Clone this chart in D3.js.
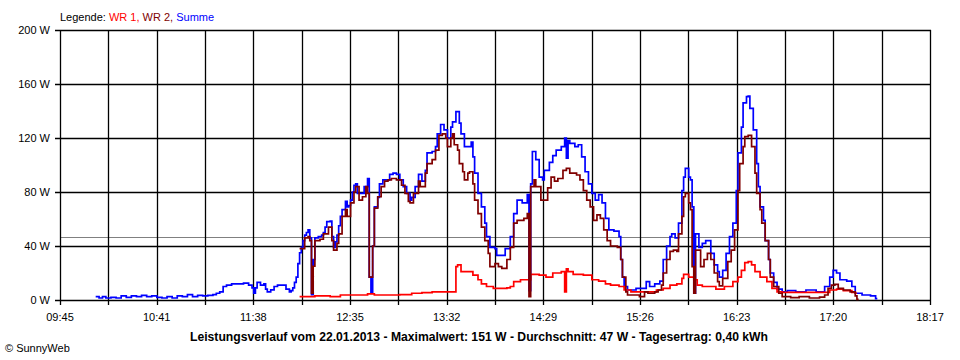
<!DOCTYPE html>
<html><head><meta charset="utf-8">
<script src="https://cdn.jsdelivr.net/npm/d3@7"></script>
<style>
body{margin:0;background:#fff;}
svg{display:block;}
text{font-family:"Liberation Sans",Arial,sans-serif;}
</style></head>
<body><svg id="chart" width="960" height="360"></svg>
<script>
// ---- data ----
const yTicks = [0, 40, 80, 120, 160, 200];
const xTickLabels = ["09:45","10:41","11:38","12:35","13:32","14:29","15:26","16:23","17:20","18:17"];
const dayStart = "09:45", dayEnd = "18:17";
const averageW = 47;
const legendItems = ["WR 1", "WR 2", "Summe"];
const titleText = "Leistungsverlauf vom 22.01.2013 - Maximalwert: 151 W - Durchschnitt: 47 W - Tagesertrag: 0,40 kWh";

const summe = [
["10:06",2.5],["10:08",1.5],["10:10",2.5],["10:12",1.5],["10:15",2],["10:18",1.5],["10:21",3],["10:24",2],["10:27",3],["10:30",2.5],
["10:33",3.5],["10:36",2.5],["10:39",3],["10:42",2],["10:45",1.5],["10:48",2.5],["10:51",1.5],["10:54",3],["10:57",2.5],["11:00",4],
["11:03",2.5],["11:06",3.5],["11:09",3],["11:12",3.5],["11:15",4],["11:17",5],["11:19",6],["11:21",10],["11:23",11],["11:26",12],
["11:30",12],["11:33",12.5],["11:36",11],["11:38",9],["11:39",5],["11:40",9],["11:41",13],["11:43",11],["11:45",12],["11:46",8],
["11:47",6],["11:49",7.5],["11:51",10],["11:53",11],["11:56",11],["11:58",8],["12:00",6],["12:01",7],["12:02",9],["12:03",13],
["12:04",17],["12:05",27],["12:06",35],["12:07",39],["12:08",44],["12:09",48],["12:10",50],["12:11",52],["12:12",46],["12:13",4],
["12:14",30],["12:15",46],["12:17",47],["12:19",48],["12:20",50],["12:21",54],["12:22",58],["12:24",58.5],["12:25",47],["12:26",39],
["12:27",43],["12:28",48],["12:29",55],["12:30",62],["12:31",67],["12:33",73],["12:34",69],["12:35",70],["12:36",74],["12:37",80],
["12:38",85],["12:39",86],["12:40",79],["12:42",79],["12:44",84],["12:46",90],["12:47",17],["12:48",5],["12:49",40],["12:50",69],
["12:52",76],["12:53",86],["12:55",89],["12:57",89],["12:59",93],["13:01",94],["13:03",93],["13:05",89],["13:07",84],["13:09",79],
["13:11",74],["13:12",76],["13:14",84],["13:16",93],["13:18",88],["13:20",96],["13:21",109],["13:24",110],["13:26",113.6],["13:27",123],
["13:29",130],["13:31",126],["13:33",120],["13:35",128],["13:36",132],["13:38",139.5],["13:40",131],["13:41",123],["13:43",113.6],["13:45",113.6],
["13:47",117],["13:48",106],["13:49",94],["13:51",79],["13:53",69],["13:55",57],["13:56",47],["13:58",39],["14:01",38],["14:02",33],
["14:07",38],["14:10",47],["14:12",64],["14:14",74],["14:17",72],["14:20",78],["14:21",7],["14:22",86],["14:23",110],["14:25",104],
["14:27",91],["14:29",89],["14:30",96],["14:33",102],["14:35",107],["14:37",111],["14:40",113.6],["14:42",120],["14:43",105],["14:44",118],
["14:45",116],["14:48",113.6],["14:50",115],["14:52",106],["14:54",95],["14:56",86],["14:58",79],["15:00",74],["15:02",78],["15:04",72],
["15:06",60.5],["15:08",52],["15:11",51],["15:14",47],["15:15",30],["15:16",17],["15:17",10],["15:19",7.4],["15:24",8.6],["15:28",8.6],
["15:30",13.6],["15:32",10],["15:35",12],["15:38",14],["15:40",30],["15:42",40],["15:44",47],["15:45",49],["15:47",46],["15:49",57],
["15:51",81],["15:52",91],["15:53",97.5],["15:55",91],["15:56",89],["15:57",69],["15:58",5],["15:59",49],["16:01",39],["16:03",42],
["16:05",44],["16:07",44],["16:08",34.5],["16:10",26],["16:12",21],["16:13",17],["16:15",22],["16:17",34.5],["16:19",47],["16:21",57],
["16:23",81],["16:24",109],["16:26",128],["16:27",146],["16:29",150.6],["16:30",151],["16:31",142],["16:33",126],["16:35",101],["16:36",84],
["16:37",69],["16:39",59],["16:40",44],["16:42",30],["16:43",20],["16:45",13],["16:47",8],["16:50",6],["16:53",7],["16:58",6],
["17:04",7.4],["17:10",6],["17:15",10],["17:18",17],["17:20",22],["17:22",20],["17:24",15],["17:28",14],["17:31",10],["17:33",5],
["17:37",3.7],["17:42",3],["17:45",1],["17:46",1]
];

const wr1 = [
["12:06",2.5],["12:15",3],["12:24",2.5],["12:30",3.7],["12:46",4.5],["12:50",3.7],["13:05",4],["13:12",5],["13:18",5.4],["13:24",6],
["13:37",6],["13:38",24.7],["13:39",26],["13:41",21],["13:47",21],["13:48",18.5],["13:51",15],["13:53",12],["13:56",10],["14:00",8.6],["14:08",9],
["14:10",10],["14:12",13.6],["14:16",15],["14:22",19],["14:27",18.5],["14:31",17],["14:35",20],["14:40",21],["14:42",6],["14:43",23],
["14:44",21],["14:47",19],["14:53",18.5],["14:58",15],["15:02",14],["15:06",12],["15:09",11],["15:14",10],["15:17",7.4],["15:21",6],
["15:36",7.4],["15:40",8.6],["15:44",11],["15:48",12],["15:51",16],["15:52",19],["15:55",17],["15:58",15],["16:00",11],["16:03",10],
["16:09",10],["16:11",8],["16:16",10],["16:21",13.6],["16:24",17],["16:26",22],["16:28",27.7],["16:30",28.4],["16:32",26],["16:34",21],
["16:37",17],["16:41",13.6],["16:44",8.6],["16:47",6],["16:50",5.7],["17:15",5.7],["17:18",7.4],["17:22",8],["17:26",7],["17:31",5.7],
["17:33",5],["17:34",5]
];

const wr2 = [
["12:06",38],["12:09",46],["12:11",47],["12:12",44],["12:13",5],["12:14",25],["12:15",44],["12:18",45],["12:20",49],["12:23",54],
["12:25",44],["12:26",37],["12:28",42],["12:29",49],["12:31",62],["12:33",67],["12:34",62],["12:36",72],["12:38",80],["12:39",84],
["12:41",74],["12:43",76.5],["12:45",84],["12:46",79],["12:47",17],["12:49",40],["12:50",68],["12:52",76.5],["12:54",84],["12:56",88],
["12:58",89],["13:00",90],["13:03",89],["13:06",85],["13:08",79],["13:10",73],["13:11",72],["13:13",79],["13:16",88],["13:17",84],
["13:20",94],["13:21",101],["13:24",104],["13:26",111],["13:28",122],["13:30",123],["13:32",120],["13:33",113.6],["13:35",120],["13:36",123],
["13:37",115],["13:39",111],["13:40",101],["13:42",95],["13:43",89],["13:45",94],["13:46",95],["13:48",86],["13:49",74],["13:51",64],
["13:53",54],["13:55",44],["13:57",34.5],["13:58",24.7],["14:01",27],["14:03",24.7],["14:05",23.5],["14:08",30],["14:10",39],["14:12",57],
["14:14",59],["14:18",60.5],["14:20",64],["14:21",2.5],["14:22",84],["14:24",89],["14:25",84],["14:28",74],["14:29",74],["14:32",83],
["14:34",91],["14:36",88],["14:38",90],["14:41",96],["14:43",97.5],["14:45",94],["14:49",92.6],["14:51",89],["14:53",81],["14:55",74],
["14:57",69],["14:59",59],["15:01",63],["15:03",60.5],["15:05",52],["15:07",44],["15:09",40],["15:13",39],["15:15",30],["15:16",17],
["15:18",6],["15:19",3.7],["15:26",2.5],["15:29",6],["15:31",5],["15:35",6],["15:37",7.4],["15:39",11],["15:40",20],["15:42",30],
["15:44",36],["15:46",37],["15:48",36],["15:49",49],["15:51",62],["15:52",76.5],["15:53",79],["15:55",72],["15:56",67],["15:57",24.7],
["15:58",5],["15:59",37],["16:02",24.7],["16:04",30],["16:06",34.5],["16:08",30],["16:10",20],["16:12",13.6],["16:13",10.4],["16:15",16],
["16:18",28.4],["16:20",37],["16:22",52],["16:24",81],["16:25",101],["16:27",113.6],["16:28",121],["16:30",122],["16:32",113.6],["16:34",94],
["16:35",79],["16:37",67],["16:38",57],["16:40",44],["16:42",30],["16:43",17],["16:45",10],["16:48",5],["16:50",2.5],["16:55",1.7],
["17:00",2.5],["17:06",1.5],["17:12",2.2],["17:15",3.7],["17:17",8.6],["17:19",11],["17:21",11.6],["17:23",8.6],["17:26",7.4],["17:30",6],
["17:33",3],["17:34",0.5],["17:35",0.5]
];

const seriesColors = ["#ff0000", "#800000", "#0000ff"];

// ---- chart ----
const toMin = s => { const [h, m] = s.split(":").map(Number); return h * 60 + m; };
const svg = d3.select("#chart");
const t0 = toMin(dayStart), t1 = toMin(dayEnd);
const x = d3.scaleLinear().domain([t0, t1]).range([60, 930]);
const y = d3.scaleLinear().domain([0, 200]).range([300, 30]);

const nGrid = (xTickLabels.length - 1) * 2;
const gridTimes = d3.range(nGrid + 1).map(i => t0 + i * (t1 - t0) / nGrid);

const g = svg.append("g");

// average line
g.append("line")
  .attr("x1", x(t0)).attr("x2", x(t1))
  .attr("y1", Math.round(y(averageW)) + 0.5).attr("y2", Math.round(y(averageW)) + 0.5)
  .attr("stroke", "#808080").attr("stroke-width", 1);

// vertical grid
g.selectAll("line.v").data(gridTimes).join("line")
  .attr("x1", d => Math.round(x(d)) + 0.5).attr("x2", d => Math.round(x(d)) + 0.5)
  .attr("y1", y(200)).attr("y2", y(0) + 5)
  .attr("stroke", "#000").attr("stroke-width", 1.3);

// horizontal grid
g.selectAll("line.h").data(yTicks).join("line")
  .attr("x1", x(t0) - 5).attr("x2", x(t1) + 1)
  .attr("y1", d => Math.round(y(d)) + 0.5).attr("y2", d => Math.round(y(d)) + 0.5)
  .attr("stroke", "#000").attr("stroke-width", 1.3);

// y labels
g.selectAll("text.yl").data(yTicks).join("text")
  .attr("x", 50).attr("y", d => y(d) + 4)
  .attr("text-anchor", "end").attr("font-size", 11).attr("fill", "#000")
  .text(d => d + " W");

// x labels
g.selectAll("text.xl").data(xTickLabels).join("text")
  .attr("x", (d, i) => x(gridTimes[i * 2])).attr("y", 321)
  .attr("text-anchor", "middle").attr("font-size", 11).attr("fill", "#000")
  .text(d => d);

// series lines
const line = d3.line()
  .x(d => x(toMin(d[0])))
  .y(d => y(d[1]))
  .curve(d3.curveStepAfter);

[[summe, seriesColors[2]], [wr1, seriesColors[0]], [wr2, seriesColors[1]]].forEach(([data, col]) => {
  g.append("path").datum(data)
    .attr("d", line)
    .attr("fill", "none").attr("stroke", col).attr("stroke-width", 1.7)
    .attr("stroke-linejoin", "miter");
});

// legend
const leg = svg.append("text").attr("x", 60).attr("y", 21).attr("font-size", 11);
leg.append("tspan").attr("fill", "#000").text("Legende: ");
legendItems.forEach((name, i) => {
  leg.append("tspan").attr("fill", seriesColors[i]).text(name + (i < legendItems.length - 1 ? ", " : ""));
});

// title
svg.append("text").attr("x", 479).attr("y", 341)
  .attr("text-anchor", "middle").attr("font-size", 12).attr("font-weight", "bold")
  .attr("textLength", 578).attr("lengthAdjust", "spacingAndGlyphs")
  .text(titleText);

// footer
svg.append("text").attr("x", 5).attr("y", 352).attr("font-size", 11).text("© SunnyWeb");
</script>
</body></html>
